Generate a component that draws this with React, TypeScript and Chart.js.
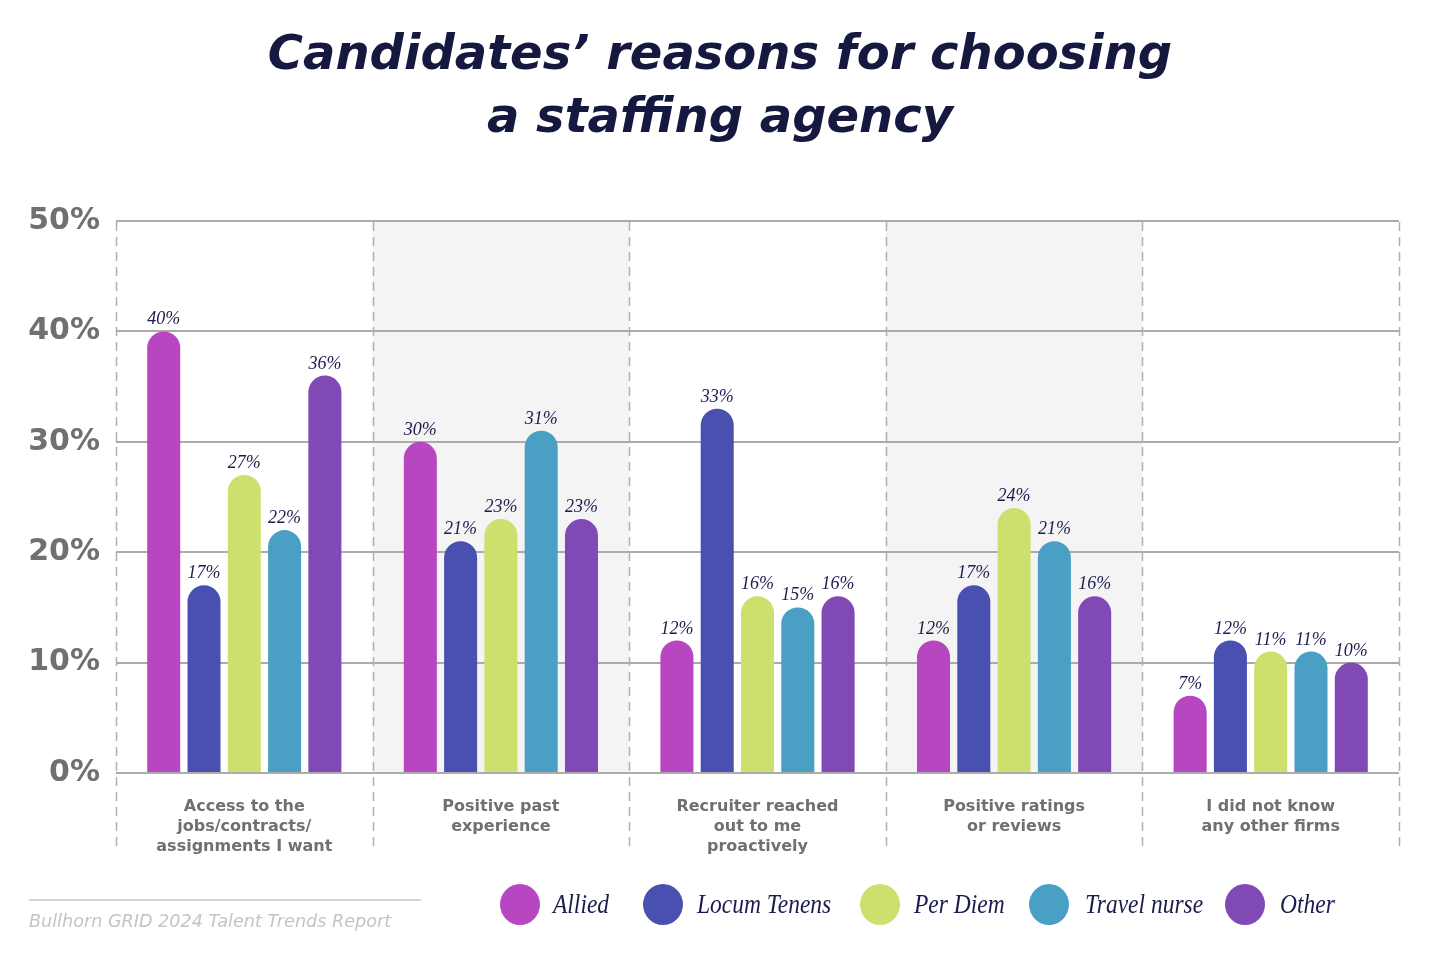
import React, { useEffect, useRef } from "react";
import { Chart, registerables } from "chart.js";

Chart.register(...registerables);

const categories: string[][] = [
  ["Access to the", "jobs/contracts/", "assignments I want"],
  ["Positive past", "experience"],
  ["Recruiter reached", "out to me", "proactively"],
  ["Positive ratings", "or reviews"],
  ["I did not know", "any other firms"],
];

const seriesNames = ["Allied", "Locum Tenens", "Per Diem", "Travel nurse", "Other"];
const allied = [40, 30, 12, 12, 7];
const locumTenens = [17, 21, 33, 17, 12];
const perDiem = [27, 23, 16, 24, 11];
const travelNurse = [22, 31, 15, 21, 11];
const other = [36, 23, 16, 16, 10];
const seriesValues = [allied, locumTenens, perDiem, travelNurse, other];
const seriesColors = ["#b846c0", "#4a50b0", "#cddf6c", "#4a9fc4", "#8149b6"];

const yTicks = [0, 10, 20, 30, 40, 50];

const TITLE_LINES = ["Candidates\u2019 reasons for choosing", "a staffing agency"];
const SOURCE = "Bullhorn GRID 2024 Talent Trends Report";

const legendLayout = [
  { circle: 500, text: 553 },
  { circle: 643, text: 697 },
  { circle: 860, text: 914 },
  { circle: 1029, text: 1085 },
  { circle: 1225, text: 1280 },
];

const decorPlugin = {
  id: "decor",
  beforeDatasetsDraw(chart: any) {
    const { ctx, chartArea } = chart;
    const n = categories.length;
    const w = (chartArea.right - chartArea.left) / n;
    ctx.save();
    ctx.strokeStyle = "#b0b0b0";
    ctx.lineWidth = 1.5;
    ctx.setLineDash([9, 6]);
    for (let i = 0; i <= n; i++) {
      const x = Math.round(chartArea.left + i * w) + 0.5;
      ctx.beginPath();
      ctx.moveTo(x, chartArea.top + 1);
      ctx.lineTo(x, 852);
      ctx.stroke();
    }
    ctx.restore();
  },
  beforeDraw(chart: any) {
    const { ctx, chartArea } = chart;
    const n = categories.length;
    const w = (chartArea.right - chartArea.left) / n;
    ctx.save();
    ctx.fillStyle = "#f4f4f4";
    for (let i = 0; i < n; i++) {
      if (i % 2 === 1) {
        ctx.fillRect(chartArea.left + i * w, chartArea.top, w, chartArea.bottom - chartArea.top);
      }
    }
    ctx.restore();
  },
  afterDatasetsDraw(chart: any) {
    const { ctx } = chart;
    ctx.save();
    ctx.font = "italic 18px 'Liberation Serif'";
    ctx.fillStyle = "#1b1c4d";
    ctx.textAlign = "center";
    ctx.textBaseline = "alphabetic";
    chart.data.datasets.forEach((ds: any, di: number) => {
      const meta = chart.getDatasetMeta(di);
      meta.data.forEach((el: any, i: number) => {
        ctx.fillText(`${ds.data[i]}%`, el.x, el.y - 7);
      });
    });
    ctx.restore();
  },
};

export default function App() {
  const ref = useRef<HTMLCanvasElement | null>(null);

  useEffect(() => {
    if (!ref.current) return;
    const chart = new Chart(ref.current, {
      type: "bar",
      data: {
        labels: categories,
        datasets: seriesNames.map((name, i) => ({
          label: name,
          data: seriesValues[i],
          backgroundColor: seriesColors[i],
          borderRadius: 17,
          borderSkipped: "start",
          barPercentage: 0.82,
          categoryPercentage: 0.785,
        })),
      },
      options: {
        responsive: false,
        devicePixelRatio: 1,
        animation: false,
        layout: { padding: { left: 0, right: 41, top: 221, bottom: 0 } },
        plugins: { legend: { display: false }, title: { display: false }, tooltip: { enabled: false } },
        scales: {
          x: {
            grid: { display: false },
            border: { display: false },
            ticks: {
              color: "#707070",
              font: { family: "'DejaVu Sans'", weight: "bold", size: 16, lineHeight: 1.25 },
              padding: 16,
              maxRotation: 0,
              autoSkip: false,
            },
            afterFit(scale: any) {
              scale.height = 183;
            },
          },
          y: {
            min: 0,
            max: 50,
            afterBuildTicks(scale: any) {
              scale.ticks = yTicks.map((v) => ({ value: v }));
            },
            grid: { color: "#ababab", lineWidth: 2, drawTicks: false },
            border: { display: false },
            ticks: {
              color: "#707070",
              font: { family: "'DejaVu Sans'", weight: "bold", size: 30 },
              padding: 16,
              callback: (v: any) => `${v}%`,
            },
            afterFit(scale: any) {
              scale.width = 116;
            },
          },
        },
      },
      plugins: [decorPlugin],
    } as any);
    return () => chart.destroy();
  }, []);

  return (
    <div style={{ position: "absolute", left: 0, top: 0, width: 1440, height: 956, background: "#fff", overflow: "hidden" }}>
      <canvas ref={ref} width={1440} height={956} style={{ position: "absolute", left: 0, top: 0, width: 1440, height: 956 }} />
      {TITLE_LINES.map((t, i) => (
        <div
          key={t}
          style={{
            position: "absolute",
            left: 0,
            width: 1440,
            top: 22 + i * 63,
            textAlign: "center",
            fontFamily: "'DejaVu Sans'",
            fontWeight: "bold",
            fontStyle: "italic",
            fontSize: 48,
            lineHeight: "60px",
            color: "#15183f",
            whiteSpace: "nowrap",
          }}
        >
          {t}
        </div>
      ))}
      <div style={{ position: "absolute", left: 29, top: 899, width: 392, height: 2, background: "#d4d4d4" }} />
      <div
        style={{
          position: "absolute",
          left: 29,
          top: 909,
          fontFamily: "'DejaVu Sans ExtraLight', 'DejaVu Sans'",
          fontStyle: "italic",
          fontWeight: 200,
          fontSize: 17.6,
          lineHeight: "24px",
          color: "#c4c4c4",
          whiteSpace: "nowrap",
        }}
      >
        {SOURCE}
      </div>
      {seriesNames.map((name, i) => (
        <React.Fragment key={name}>
          <div
            style={{
              position: "absolute",
              left: legendLayout[i].circle,
              top: 884,
              width: 40,
              height: 41,
              borderRadius: "50%",
              background: seriesColors[i],
            }}
          />
          <div
            style={{
              position: "absolute",
              left: legendLayout[i].text,
              top: 886,
              fontFamily: "'Liberation Serif'",
              fontStyle: "italic",
              fontSize: 27,
              lineHeight: "36px",
              color: "#1b1c4d",
              whiteSpace: "nowrap",
              transform: "scaleX(0.87)",
              transformOrigin: "left center",
            }}
          >
            {name}
          </div>
        </React.Fragment>
      ))}
    </div>
  );
}
